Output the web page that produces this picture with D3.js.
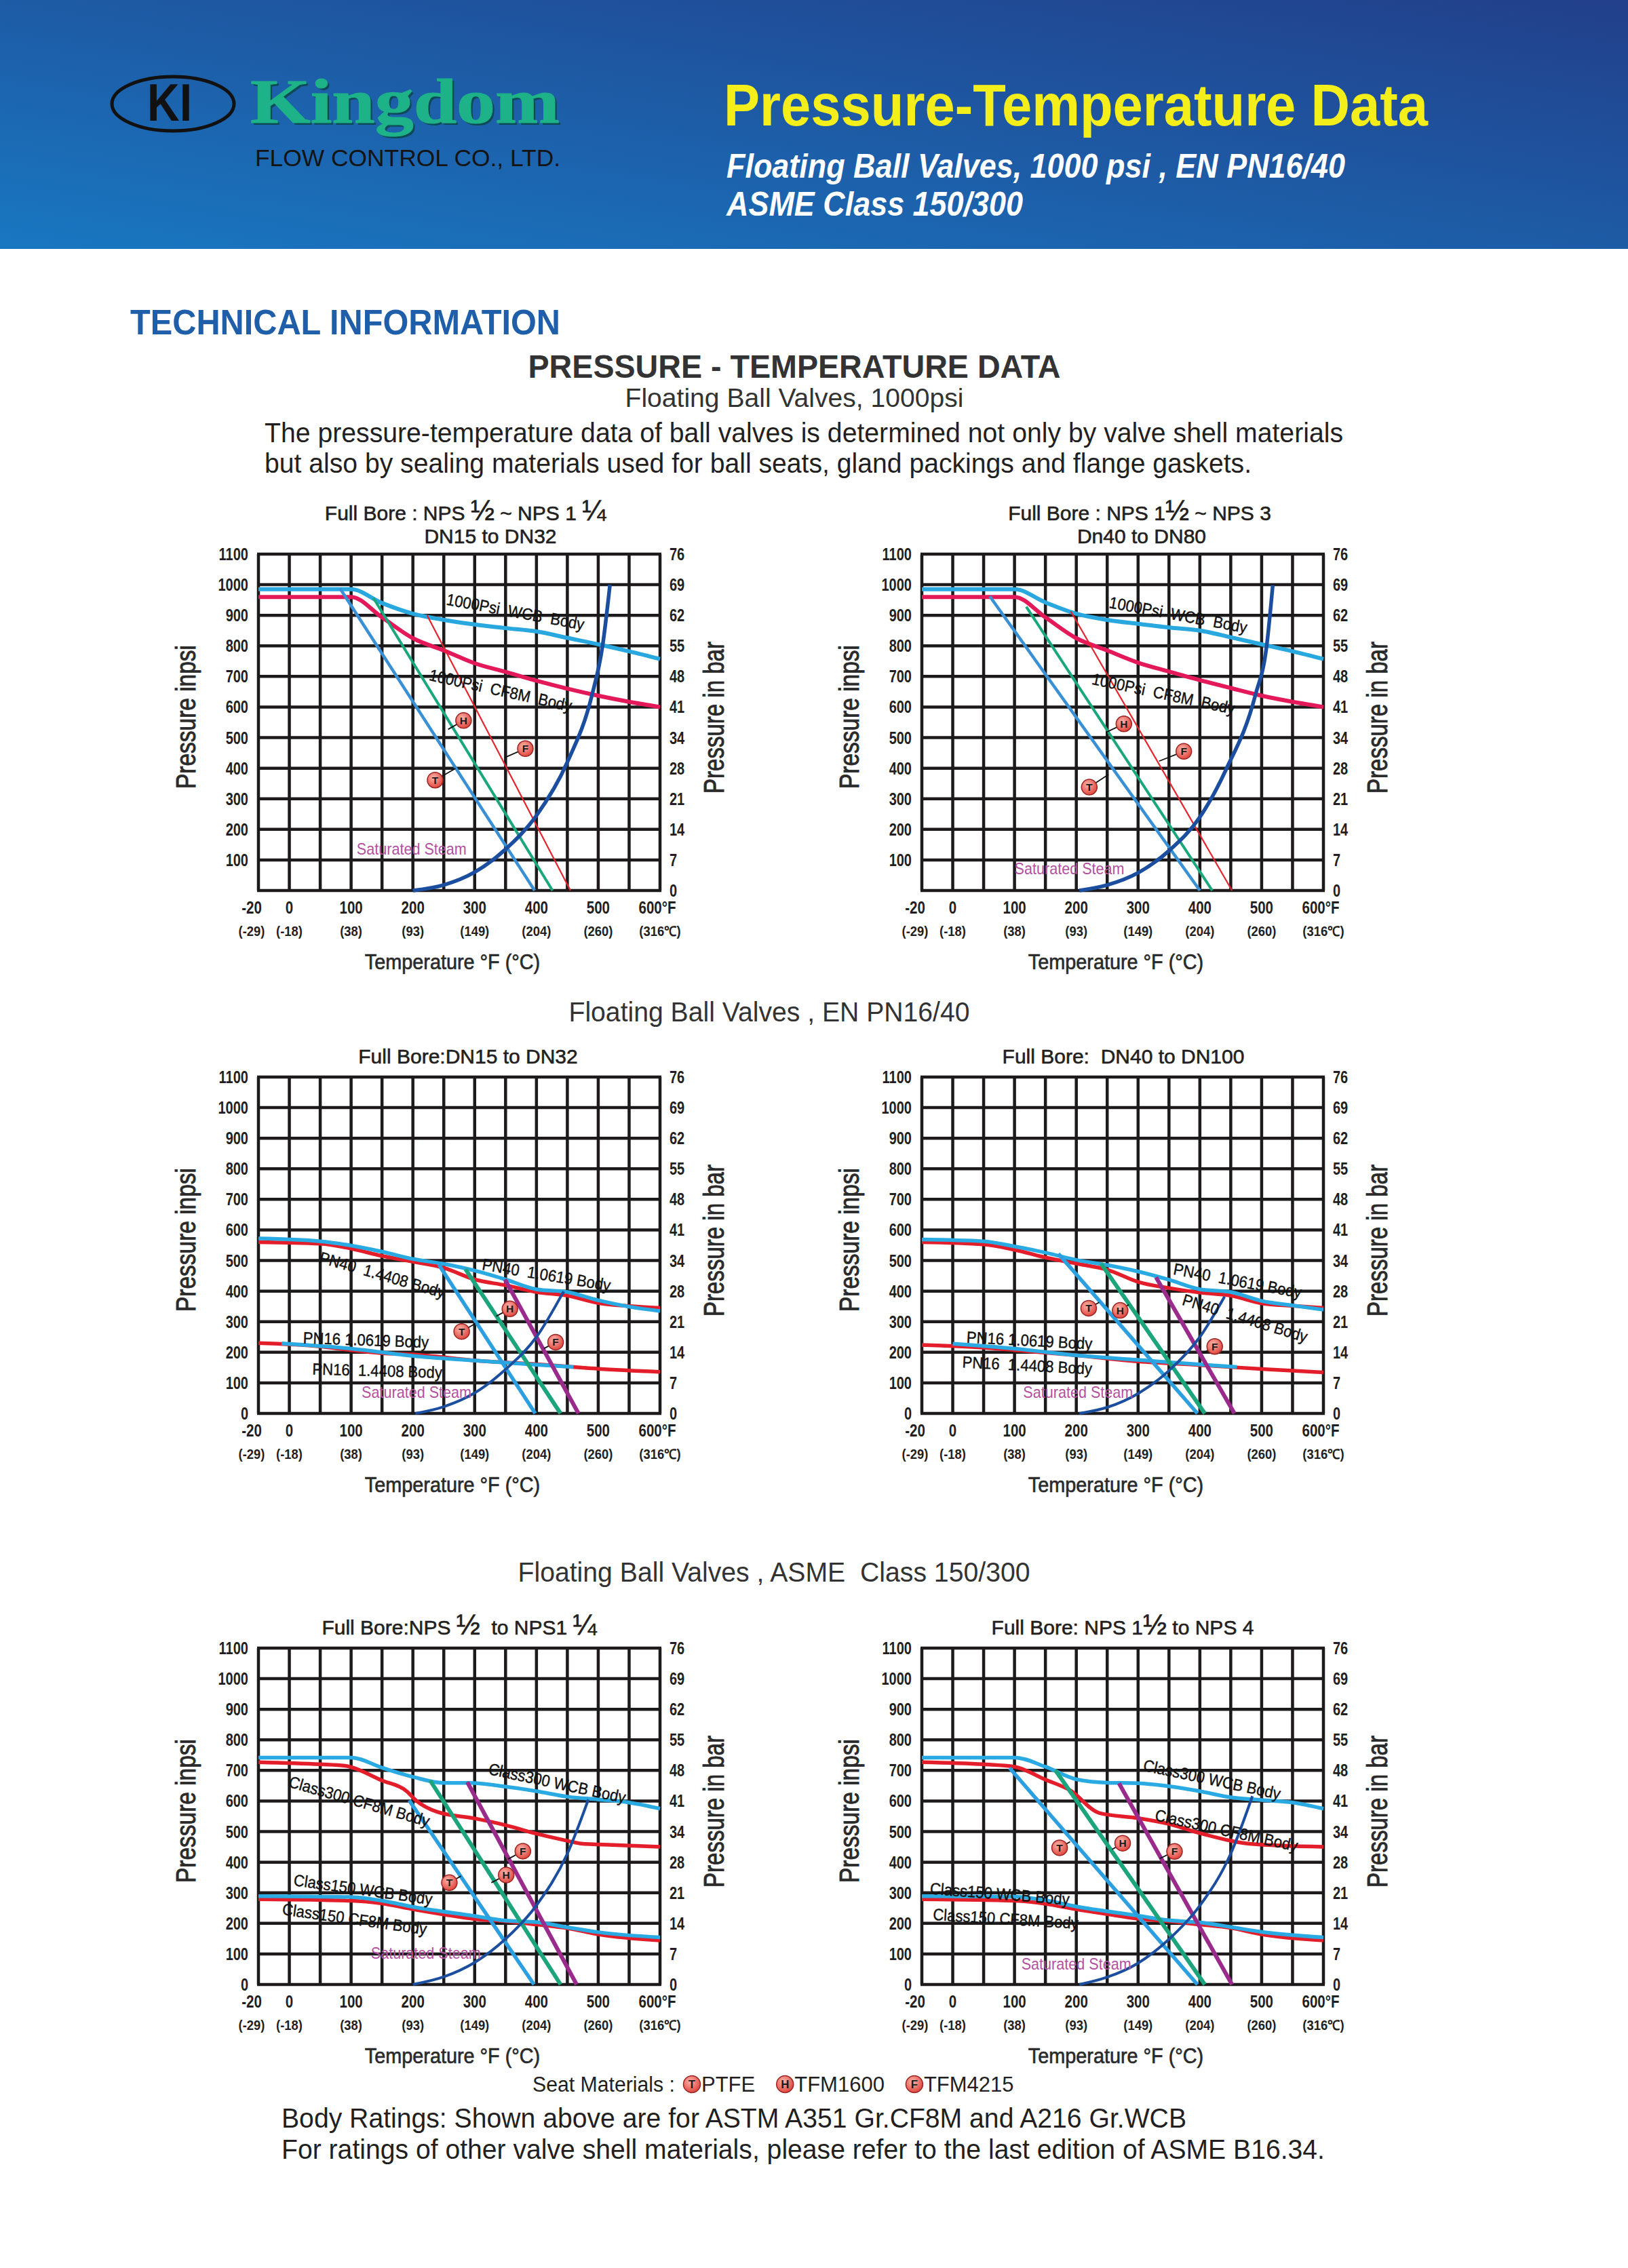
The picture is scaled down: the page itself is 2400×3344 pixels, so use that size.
<!DOCTYPE html>
<html lang="en">
<head>
<meta charset="UTF-8">
<title>Pressure-Temperature Data</title>
<script src="https://cdn.jsdelivr.net/npm/d3@7"></script>
<style>
  body { margin: 0; background: #fff; }
  svg text { font-family: "Liberation Sans", Arial, sans-serif; white-space: pre; }
</style>
</head>
<body>
<div id="page"></div>
<script>
// ---- axis ticks / labels ----
const tempTicks = [-20, 0, 100, 200, 300, 400, 500, 600];
const tempLabelsF = ["-20", "0", "100", "200", "300", "400", "500", "600°F"];
const tempLabelsC = ["(-29)", "(-18)", "(38)", "(93)", "(149)", "(204)", "(260)", "(316℃)"];
const gridTemps = [-20, 0, 50, 100, 150, 200, 250, 300, 350, 400, 450, 500, 550, 600];
const psiTicks = [0, 100, 200, 300, 400, 500, 600, 700, 800, 900, 1000, 1100];
const barLabels = ["0", "7", "14", "21", "28", "34", "41", "48", "55", "62", "69", "76"];

// ---- chart A : 1000psi, NPS 1/2 ~ 1 1/4 ----
const aWcb = [[-20,985],[100,985],[150,940],[200,905],[250,885],[300,870],[350,858],[400,847],[450,826],[500,805],[550,782],[600,757]];
const aCf8m = [[-20,960],[100,960],[150,893],[200,825],[250,785],[300,743],[350,715],[400,686],[450,660],[500,637],[550,617],[600,600]];
const aPtfe = [[82,988],[397,0]];
const aTfm1600 = [[136,957],[426,0]];
const aTfm4215 = [[223,900],[455,0]];
const aSteam = [[200,0],[250,18],[300,60],[350,135],[400,245],[450,420],[490,640],[507,800],[519,1000]];

// ---- chart B : 1000psi, NPS 1 1/2 ~ 3 ----
const bWcb = [[-20,985],[100,985],[150,942],[200,905],[250,885],[300,872],[350,860],[400,850],[450,828],[500,805],[550,782],[600,757]];
const bCf8m = [[-20,960],[100,960],[150,893],[200,825],[250,785],[300,745],[350,716],[400,688],[450,662],[500,637],[550,617],[600,600]];
const bPtfe = [[60,962],[400,0]];
const bTfm1600 = [[119,928],[420,0]];
const bTfm4215 = [[191,913],[452,0]];
const bSteam = [[205,0],[250,18],[300,58],[350,130],[400,240],[442,394],[490,640],[508,798],[518,998]];

// ---- chart C : EN PN16/40, DN15 ~ DN32 ----
const cPn40Cs = [[-20,572],[50,563],[100,549],[150,529],[200,505],[250,489],[300,467],[350,438],[400,406],[450,397],[500,370],[550,349],[600,335]];
const cPn40Ss = [[-20,560],[50,555],[100,539],[150,515],[200,496],[250,476],[300,438],[350,419],[400,397],[450,385],[500,361],[550,351],[600,345]];
const cPn16Cs = [[-5,229],[100,212],[200,188],[300,173],[400,159],[460,152]];
const cPn16Ss = [[-20,230],[50,219],[100,207],[150,197],[200,193],[300,173],[400,161],[500,146],[600,136]];
const cPtfe = [[242,486],[398,0]];
const cTfm1600 = [[285,472],[439,0]];
const cTfm4215 = [[349,438],[468,0]];
const cSteam = [[204,0],[250,22],[300,67],[350,144],[400,250],[444,399]];

// ---- chart D : EN PN16/40, DN40 ~ DN100 ----
const dPn40Cs = [[-20,569],[50,563],[100,546],[150,526],[200,502],[250,485],[300,464],[350,437],[400,406],[450,397],[500,368],[550,353],[600,339]];
const dPn40Ss = [[-20,560],[50,553],[100,535],[150,510],[200,490],[250,470],[300,430],[350,410],[400,395],[450,385],[500,360],[550,352],[600,345]];
const dPn16Cs = [[0,228],[100,212],[200,190],[300,175],[400,160],[460,152]];
const dPn16Ss = [[-20,224],[50,215],[100,207],[200,190],[300,170],[400,158],[500,145],[600,134]];
const dPtfe = [[171,522],[396,0]];
const dTfm1600 = [[240,490],[408,0]];
const dTfm4215 = [[329,445],[456,0]];
const dSteam = [[205,0],[250,20],[300,65],[350,140],[400,250],[440,382]];

// ---- chart E : ASME 150/300, NPS 1/2 ~ 1 1/4 ----
const eC300Wcb = [[-20,742],[100,742],[150,709],[200,679],[250,659],[290,659],[350,647],[400,632],[450,614],[500,605],[550,595],[600,575]];
const eC300Cf8m = [[-20,727],[50,720],[90,715],[150,667],[190,632],[205,602],[240,564],[300,543],[350,521],[400,493],[450,470],[475,460],[500,458],[600,450]];
const eC150Wcb = [[-20,289],[100,286],[150,274],[200,254],[300,224],[350,209],[400,204],[450,187],[500,171],[600,154]];
const eC150Cf8m = [[-20,279],[100,274],[150,265],[200,246],[250,229],[300,214],[350,207],[400,196],[450,184],[500,164],[600,144]];
const ePtfe = [[194,602],[396,0]];
const eTfm1600 = [[228,667],[439,0]];
const eTfm4215 = [[288,662],[465,0]];
const eSteam = [[200,0],[250,25],[300,72],[350,149],[400,259],[450,428],[484,605]];

// ---- chart F : ASME 150/300, NPS 1 1/2 ~ 4 ----
const fC300Wcb = [[-20,742],[100,742],[150,712],[200,671],[250,660],[300,658],[350,648],[400,632],[450,612],[500,603],[550,595],[600,575]];
const fC300Cf8m = [[-20,727],[50,720],[100,712],[150,670],[190,635],[237,561],[300,544],[350,525],[400,495],[450,470],[480,460],[600,450]];
const fC150Wcb = [[-20,289],[100,287],[150,275],[200,255],[300,225],[350,210],[400,203],[450,188],[500,172],[600,154]];
const fC150Cf8m = [[-20,279],[100,274],[150,264],[200,246],[250,230],[300,215],[350,207],[400,196],[450,185],[500,164],[600,144]];
const fPtfe = [[92,708],[396,0]];
const fTfm1600 = [[166,701],[408,0]];
const fTfm4215 = [[269,658],[452,0]];
const fSteam = [[205,0],[250,24],[300,70],[350,148],[400,258],[450,428],[485,616]];

// ---- annotations: [text, temp, psi, angle] and seat markers [letter, temp, psi, toTemp, toPsi] ----
const aLabels = [["1000Psi  WCB  Body", 253, 935, 10.5], ["1000Psi  CF8M  Body", 225, 688, 12.5]];
const bLabels = [["1000Psi  WCB  Body", 252, 925, 10.5], ["1000Psi  CF8M  Body", 224, 675, 12]];
const cLabels = [["PN40  1.4408 Body", 47, 494, 16], ["PN40  1.0619 Body", 311, 470, 9.5], ["PN16 1.0619 Body", 22, 229, 2], ["PN16  1.4408 Body", 37, 127, 1.5]];
const dLabels = [["PN40  1.0619 Body", 356, 455, 10.6], ["PN40  1.4408 Body", 370, 356, 17], ["PN16 1.0619 Body", 22, 231, 3], ["PN16  1.4408 Body", 15, 150, 3]];
const eLabels = [["Class300 WCB Body", 321, 688, 12], ["Class300 CF8M Body", -1, 647, 16], ["Class150 WCB Body", 6, 324, 8], ["Class150 CF8M Body", -5, 229, 8]];
const fLabels = [["Class300 WCB Body", 307, 700, 12], ["Class300 CF8M Body", 326, 537, 12.4], ["Class150 WCB Body", -15, 296, 4.5], ["Class150 CF8M Body", -13, 211, 3.5]];
const steamAt = [[109, 118], [100, 54], [117, 50], [114, 51], [132, 85], [111, 48]];

const aMarks = [["H", 282, 556, 257, 527], ["F", 382, 464, 349, 435], ["T", 236, 361, 269, 399]];
const bMarks = [["H", 277, 545, 248, 517], ["F", 374, 455, 334, 423], ["T", 221, 338, 252, 379]];
const cMarks = [["H", 357, 342, 335, 318], ["T", 279, 268, 301, 294], ["F", 431, 233, 412, 212]];
const dMarks = [["T", 220, 344, 237, 363], ["H", 271, 337, 285, 356], ["F", 424, 219, 405, 197]];
const eMarks = [["F", 378, 436, 354, 410], ["H", 351, 358, 327, 333], ["T", 259, 333, 278, 355]];
const fMarks = [["T", 173, 447, 190, 467], ["H", 275, 462, 258, 442], ["F", 359, 435, 335, 412]];

const seatKeys = [["T", "PTFE"], ["H", "TFM1600"], ["F", "TFM4215"]];

// ---- styles ----
const st = {
  wcb:   {c: "#29a8e0", w: 6},
  cf8m:  {c: "#e3195a", w: 6},
  ptfe:  {c: "#3a90d4", w: 4.5},
  h1:    {c: "#19a77b", w: 4},
  f1:    {c: "#e5252d", w: 2.2},
  steam: {c: "#1b4e9f", w: 5.5},
  lb:    {c: "#29aae2", w: 5.5},
  rd:    {c: "#e31d2a", w: 5.5},
  ptfe2: {c: "#2c9fe0", w: 5.5},
  h2:    {c: "#1ca57c", w: 6},
  f2:    {c: "#9a2b8d", w: 6},
  steam2:{c: "#1b4e9f", w: 4}
};

const PW = 592, PH = 496;
const charts = [
  {x0: 381, y0: 817, zero: false, marks: aMarks, labels: aLabels,
   title: [[[ "Full Bore : NPS ", 0], ["½", 1], [" ~ NPS 1 ", 0], ["¼", 1]], [["DN15 to DN32", 0]]], tx: [686, 723],
   series: [[aWcb, st.wcb], [aCf8m, st.cf8m], [aPtfe, st.ptfe], [aTfm1600, st.h1], [aTfm4215, st.f1], [aSteam, st.steam]]},
  {x0: 1359, y0: 817, zero: false, marks: bMarks, labels: bLabels,
   title: [[["Full Bore : NPS 1", 0], ["½", 1], [" ~ NPS 3", 0]], [["Dn40 to DN80", 0]]], tx: [1680, 1683],
   series: [[bWcb, st.wcb], [bCf8m, st.cf8m], [bPtfe, st.ptfe], [bTfm1600, st.h1], [bTfm4215, st.f1], [bSteam, st.steam]]},
  {x0: 381, y0: 1588, zero: true, marks: cMarks, labels: cLabels,
   title: [[["Full Bore:DN15 to DN32", 0]]], tx: [690],
   series: [[cPn40Ss, st.rd], [cPn40Cs, st.lb], [cPn16Ss, st.rd], [cPn16Cs, st.lb], [cPtfe, st.ptfe2], [cTfm1600, st.h2], [cTfm4215, st.f2], [cSteam, st.steam2]]},
  {x0: 1359, y0: 1588, zero: true, marks: dMarks, labels: dLabels,
   title: [[["Full Bore:  DN40 to DN100", 0]]], tx: [1656],
   series: [[dPn40Ss, st.rd], [dPn40Cs, st.lb], [dPn16Ss, st.rd], [dPn16Cs, st.lb], [dPtfe, st.ptfe2], [dTfm1600, st.h2], [dTfm4215, st.f2], [dSteam, st.steam2]]},
  {x0: 381, y0: 2430, zero: true, marks: eMarks, labels: eLabels,
   title: [[["Full Bore:NPS ", 0], ["½", 1], ["  to NPS1 ", 0], ["¼", 1]]], tx: [677],
   series: [[eC300Cf8m, st.rd], [eC300Wcb, st.lb], [eC150Cf8m, st.rd], [eC150Wcb, st.lb], [ePtfe, st.ptfe2], [eTfm1600, st.h2], [eTfm4215, st.f2], [eSteam, st.steam2]]},
  {x0: 1359, y0: 2430, zero: true, marks: fMarks, labels: fLabels,
   title: [[["Full Bore: NPS 1", 0], ["½", 1], [" to NPS 4", 0]]], tx: [1655],
   series: [[fC300Cf8m, st.rd], [fC300Wcb, st.lb], [fC150Cf8m, st.rd], [fC150Wcb, st.lb], [fPtfe, st.ptfe2], [fTfm1600, st.h2], [fTfm4215, st.f2], [fSteam, st.steam2]]}
];

const ink = "#231f20";
const svg = d3.select("#page").append("svg").attr("width", 2400).attr("height", 3344);
const defs = svg.append("defs");

const band = defs.append("linearGradient").attr("id", "band")
  .attr("x1", "0%").attr("y1", "100%").attr("x2", "100%").attr("y2", "0%");
band.append("stop").attr("offset", "0%").attr("stop-color", "#1977c1");
band.append("stop").attr("offset", "100%").attr("stop-color", "#223f8a");

const dot = defs.append("radialGradient").attr("id", "dot").attr("cx", "40%").attr("cy", "35%").attr("r", "65%");
dot.append("stop").attr("offset", "0%").attr("stop-color", "#fbb4ab");
dot.append("stop").attr("offset", "100%").attr("stop-color", "#e0473f");

svg.append("rect").attr("width", 2400).attr("height", 3344).attr("fill", "#fff");

// narrow a text to f of its natural width
function squeeze(sel, f) {
  sel.each(function () {
    const n = this.getComputedTextLength();
    d3.select(this).attr("textLength", n * f).attr("lengthAdjust", "spacingAndGlyphs");
  });
}

// ---- header band ----
svg.append("rect").attr("width", 2400).attr("height", 367).attr("fill", "url(#band)");
svg.append("ellipse").attr("cx", 255).attr("cy", 153).attr("rx", 90).attr("ry", 40)
  .attr("fill", "none").attr("stroke", "#111").attr("stroke-width", 5);
svg.append("text").attr("x", 250).attr("y", 178).attr("text-anchor", "middle")
  .attr("font-size", 78).attr("font-weight", "bold").attr("fill", "#111")
  .attr("textLength", 66).attr("lengthAdjust", "spacingAndGlyphs").text("KI");
svg.append("text").attr("x", 372).attr("y", 184)
  .style("font-family", "'Liberation Serif', 'DejaVu Serif', serif")
  .attr("font-size", 94).attr("font-weight", "bold").attr("fill", "#0c4a55")
  .attr("textLength", 456).attr("lengthAdjust", "spacingAndGlyphs").text("Kingdom");
svg.append("text").attr("x", 369).attr("y", 181)
  .style("font-family", "'Liberation Serif', 'DejaVu Serif', serif")
  .attr("font-size", 94).attr("font-weight", "bold").attr("fill", "#1db288")
  .attr("stroke", "#1db288").attr("stroke-width", 1.2)
  .attr("textLength", 456).attr("lengthAdjust", "spacingAndGlyphs").text("Kingdom");
svg.append("text").attr("x", 376).attr("y", 245).attr("font-size", 35).attr("fill", "#141414")
  .attr("textLength", 450).attr("lengthAdjust", "spacingAndGlyphs").text("FLOW CONTROL CO., LTD.");

svg.append("text").attr("x", 1067).attr("y", 185).attr("font-size", 88).attr("font-weight", "bold")
  .attr("fill", "#f4ee1b").attr("textLength", 1038).attr("lengthAdjust", "spacingAndGlyphs")
  .text("Pressure-Temperature Data");
svg.append("text").attr("x", 1071).attr("y", 262).attr("font-size", 50).attr("font-weight", "bold")
  .attr("font-style", "italic").attr("fill", "#fff").attr("textLength", 912).attr("lengthAdjust", "spacingAndGlyphs")
  .text("Floating Ball Valves, 1000 psi , EN PN16/40");
svg.append("text").attr("x", 1071).attr("y", 318).attr("font-size", 50).attr("font-weight", "bold")
  .attr("font-style", "italic").attr("fill", "#fff").attr("textLength", 437).attr("lengthAdjust", "spacingAndGlyphs")
  .text("ASME Class 150/300");

// ---- intro texts ----
function line(x, y, s, size, len, opts = {}) {
  const t = svg.append("text").attr("x", x).attr("y", y).attr("font-size", size)
    .attr("fill", opts.fill || ink).attr("font-weight", opts.bold ? "bold" : "normal")
    .attr("text-anchor", opts.anchor || "start").text(s);
  if (len) t.attr("textLength", len).attr("lengthAdjust", "spacingAndGlyphs");
  return t;
}
line(192, 493, "TECHNICAL INFORMATION", 52, 634, {bold: true, fill: "#1f5ea9"});
line(1171, 557, "PRESSURE - TEMPERATURE DATA", 48, 785, {bold: true, anchor: "middle", fill: "#333"});
line(1171, 600, "Floating Ball Valves, 1000psi", 38, 499, {anchor: "middle", fill: "#333"});
line(390, 652, "The pressure-temperature data of ball valves is determined not only by valve shell materials", 40, 1590);
line(390, 697, "but also by sealing materials used for ball seats, gland packings and flange gaskets.", 40, 1455);
line(1134, 1506, "Floating Ball Valves , EN PN16/40", 41, 591, {anchor: "middle", fill: "#333"});
line(1141, 2332, "Floating Ball Valves , ASME  Class 150/300", 41, 755, {anchor: "middle", fill: "#333"});

// ---- charts ----
function marker(g, cx, cy, letter, r) {
  g.append("circle").attr("cx", cx).attr("cy", cy).attr("r", r)
    .attr("fill", "url(#dot)").attr("stroke", "#9b2321").attr("stroke-width", 1.5);
  g.append("text").attr("x", cx).attr("y", cy + r * 0.48).attr("text-anchor", "middle")
    .attr("font-size", r * 1.35).attr("font-weight", "bold").attr("fill", "#1a1a1a").text(letter);
}

function drawChart(c, idx) {
  const g = svg.append("g");
  const x = d3.scaleLinear().domain([-20, 0, 600]).range([c.x0, c.x0 + PW / 13, c.x0 + PW]);
  const y = d3.scaleLinear().domain([0, 1100]).range([c.y0 + PH, c.y0]);

  // title
  c.title.forEach((row, i) => {
    const t = g.append("text").attr("x", c.tx[i]).attr("y", c.y0 - (c.title.length - i) * 34 + 18 + (c.title.length === 1 ? -4 : 0))
      .attr("text-anchor", "middle").attr("font-size", 30).attr("fill", ink)
      .attr("stroke", ink).attr("stroke-width", 0.6);
    row.forEach(([s, big]) => t.append("tspan").attr("font-size", big ? 42 : 30).text(s));
  });

  // grid
  g.selectAll(null).data(gridTemps).join("line")
    .attr("x1", d => x(d)).attr("x2", d => x(d)).attr("y1", y(0)).attr("y2", y(1100))
    .attr("stroke", "#1c1a1a").attr("stroke-width", 4.5);
  g.selectAll(null).data(psiTicks).join("line")
    .attr("x1", x(-20) - 2).attr("x2", x(600) + 2).attr("y1", d => y(d)).attr("y2", d => y(d))
    .attr("stroke", "#1c1a1a").attr("stroke-width", 4.5);

  // axes labels
  g.selectAll(null).data(psiTicks.filter(v => c.zero || v > 0)).join("text")
    .attr("x", c.x0 - 15).attr("y", d => y(d) + 9).attr("text-anchor", "end")
    .attr("font-size", 25).attr("font-weight", "bold").attr("fill", ink).text(d => d)
    .call(squeeze, 0.8);
  g.selectAll(null).data(psiTicks).join("text")
    .attr("x", c.x0 + PW + 14).attr("y", d => y(d) + 9)
    .attr("font-size", 25).attr("font-weight", "bold").attr("fill", ink).text((d, i) => barLabels[i])
    .call(squeeze, 0.8);
  g.selectAll(null).data(tempTicks).join("text")
    .attr("x", (d, i) => x(d) + (i === 0 ? -10 : i === tempTicks.length - 1 ? -4 : 0))
    .attr("y", c.y0 + PH + 34).attr("text-anchor", "middle")
    .attr("font-size", 25).attr("font-weight", "bold").attr("fill", ink).text((d, i) => tempLabelsF[i])
    .call(squeeze, 0.82);
  g.selectAll(null).data(tempTicks).join("text")
    .attr("x", (d, i) => x(d) + (i === 0 ? -10 : 0)).attr("y", c.y0 + PH + 67).attr("text-anchor", "middle")
    .attr("font-size", 20).attr("font-weight", "bold").attr("fill", ink).text((d, i) => tempLabelsC[i])
    .call(squeeze, 0.92);

  g.append("text").attr("x", c.x0 + PW / 2 - 10).attr("y", c.y0 + PH + 116).attr("text-anchor", "middle")
    .attr("font-size", 32).attr("fill", "#2a2a2a").attr("stroke", "#2a2a2a").attr("stroke-width", 0.7)
    .text("Temperature °F (°C)").call(squeeze, 0.9);
  g.append("text").attr("transform", `translate(${c.x0 - 93},${c.y0 + PH / 2 - 8}) rotate(-90)`)
    .attr("text-anchor", "middle").attr("font-size", 40).attr("fill", "#2a2a2a")
    .attr("stroke", "#2a2a2a").attr("stroke-width", 0.9)
    .attr("textLength", 212).attr("lengthAdjust", "spacingAndGlyphs").text("Pressure inpsi");
  g.append("text").attr("transform", `translate(${c.x0 + PW + 94},${c.y0 + PH / 2 - 7}) rotate(-90)`)
    .attr("text-anchor", "middle").attr("font-size", 42).attr("fill", "#2a2a2a")
    .attr("stroke", "#2a2a2a").attr("stroke-width", 0.9)
    .attr("textLength", 224).attr("lengthAdjust", "spacingAndGlyphs").text("Pressure in bar");

  // curves
  const path = d3.line().x(d => x(d[0])).y(d => y(d[1])).curve(d3.curveMonotoneX);
  c.series.forEach(([data, s]) => {
    g.append("path").attr("d", path(data)).attr("fill", "none")
      .attr("stroke", s.c).attr("stroke-width", s.w).attr("stroke-linecap", "butt");
  });

  // labels along curves
  c.labels.forEach(([s, t, p, a]) => {
    g.append("text").attr("transform", `translate(${x(t)},${y(p)}) rotate(${a})`)
      .attr("font-size", 24).attr("fill", "#111").attr("stroke", "#111").attr("stroke-width", 0.4)
      .text(s).call(squeeze, 0.92);
  });
  const [st0, sp0] = steamAt[idx];
  g.append("text").attr("x", x(st0)).attr("y", y(sp0)).attr("font-size", 24)
    .attr("fill", "#b3509f").text("Saturated Steam").attr("textLength", 162).attr("lengthAdjust", "spacingAndGlyphs");

  // seat material markers
  c.marks.forEach(([L, t, p, lt, lp]) => {
    g.append("line").attr("x1", x(t)).attr("y1", y(p)).attr("x2", x(lt)).attr("y2", y(lp))
      .attr("stroke", "#111").attr("stroke-width", 1.8);
    marker(g, x(t), y(p), L, 11.5);
  });
}
charts.forEach(drawChart);

// ---- legend and notes ----
const lg = svg.append("g");
lg.append("text").attr("x", 785).attr("y", 3084).attr("font-size", 31).attr("fill", ink)
  .attr("textLength", 210).attr("lengthAdjust", "spacingAndGlyphs").text("Seat Materials :");
let kx = 1020;
seatKeys.forEach(([L, name]) => {
  marker(lg, kx, 3073, L, 12.5);
  const t = lg.append("text").attr("x", kx + 14).attr("y", 3084).attr("font-size", 31).attr("fill", ink).text(name);
  kx += 14 + t.node().getComputedTextLength() + 44;
});
line(415, 3137, "Body Ratings: Shown above are for ASTM A351 Gr.CF8M and A216 Gr.WCB", 41, 1334);
line(415, 3183, "For ratings of other valve shell materials, please refer to the last edition of ASME B16.34.", 41, 1538);
</script>
</body>
</html>
